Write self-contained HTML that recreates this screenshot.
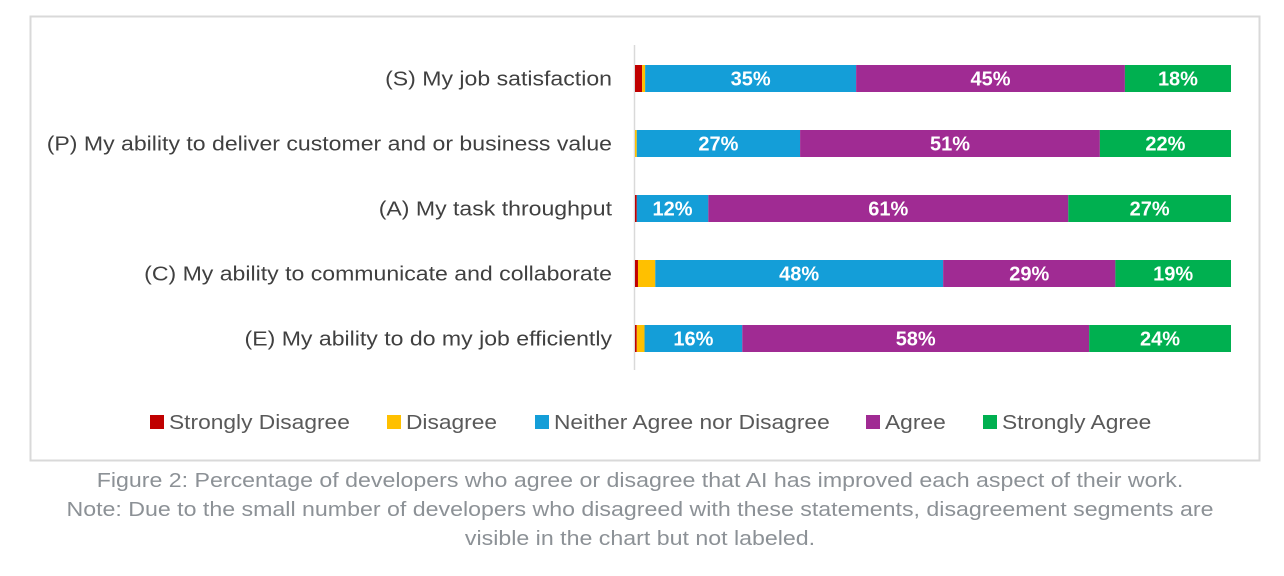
<!DOCTYPE html>
<html><head><meta charset="utf-8"><style>
html,body{margin:0;padding:0;background:#fff;width:1284px;height:576px;overflow:hidden}
svg{display:block;font-family:"Liberation Sans",sans-serif}
</style></head><body>
<svg id="chart" width="1284" height="576">
<rect x="30.5" y="16.5" width="1229" height="444" fill="#fff" stroke="#d9d9d9" stroke-width="2"/>
<line x1="634.5" y1="45" x2="634.5" y2="370" stroke="#d9d9d9" stroke-width="1.5"/>
<g id="bars"></g><g id="legend"></g>
<g fill="#8c9196" font-size="20" text-anchor="middle">
<text class="wide" data-f="1.158" x="640" y="487">Figure 2: Percentage of developers who agree or disagree that AI has improved each aspect of their work.</text>
<text class="wide" data-f="1.158" x="640" y="516">Note: Due to the small number of developers who disagreed with these statements, disagreement segments are</text>
<text class="wide" data-f="1.158" x="640" y="545">visible in the chart but not labeled.</text>
</g>
</svg>
<script>
const categories=["(S) My job satisfaction","(P) My ability to deliver customer and or business value","(A) My task throughput","(C) My ability to communicate and collaborate","(E) My ability to do my job efficiently"];
const seriesNames=["Strongly Disagree","Disagree","Neither Agree nor Disagree","Agree","Strongly Agree"];
const stronglyDisagree=[1.2,0,0.3,0.5,0.3];
const disagree=[0.5,0.3,0,2.9,1.3];
const neither=[35.4,27.4,12.0,48.3,16.4];
const agree=[45.1,50.3,60.4,28.9,58.2];
const stronglyAgree=[17.8,22.0,27.3,19.4,23.8];
const labelNeither=["35%","27%","12%","48%","16%"];
const labelAgree=["45%","51%","61%","29%","58%"];
const labelStrong=["18%","22%","27%","19%","24%"];
const colors=["#c00000","#ffc000","#149ed8","#a02b93","#00b050"];
const NS="http://www.w3.org/2000/svg";
const x0=635,x1=1231,yTop=65,step=65,bh=27;
const xs=v=>v*(x1-x0)/100;
const yOf=i=>yTop+i*step;
const bars=document.getElementById('bars');
const series=[stronglyDisagree,disagree,neither,agree,stronglyAgree];
const labels=[null,null,labelNeither,labelAgree,labelStrong];
categories.forEach((c,i)=>{
  const t=document.createElementNS(NS,'text');
  t.setAttribute('x',612);t.setAttribute('y',yOf(i)+bh/2+7);
  t.setAttribute('text-anchor','end');t.setAttribute('font-size','20.5');t.setAttribute('fill','#404040');
  t.setAttribute('class','wide');t.setAttribute('data-f','1.125');
  t.textContent=c;
  
  
  bars.appendChild(t);
  let tot=series.reduce((a,s)=>a+s[i],0);let acc=0;
  series.forEach((s,k)=>{
    const v=s[i]*100/tot; if(v<=0)return;
    const r=document.createElementNS(NS,'rect');
    r.setAttribute('x',x0+xs(acc));r.setAttribute('y',yOf(i));
    r.setAttribute('width',xs(v));r.setAttribute('height',bh);r.setAttribute('fill',colors[k]);
    
    
    bars.appendChild(r);
    if(labels[k]){
      const l=document.createElementNS(NS,'text');
      l.setAttribute('x',x0+xs(acc+v/2));l.setAttribute('y',yOf(i)+bh/2+7);
      l.setAttribute('text-anchor','middle');l.setAttribute('font-size','20');l.setAttribute('font-weight','bold');l.setAttribute('fill','#fff');
      l.textContent=labels[k][i];
      
      
      bars.appendChild(l);
    }
    acc+=v;
  });
});
const lg=document.getElementById('legend');
const lx=[150,387,535,866,983];
seriesNames.forEach((n,k)=>{
  const r=document.createElementNS(NS,'rect');
  r.setAttribute('x',lx[k]);r.setAttribute('y',415);r.setAttribute('width',14);r.setAttribute('height',14);r.setAttribute('fill',colors[k]);
  
  
  lg.appendChild(r);
  const t=document.createElementNS(NS,'text');
  t.setAttribute('x',lx[k]+19);t.setAttribute('y',429);t.setAttribute('font-size','20.5');t.setAttribute('fill','#595959');
  t.setAttribute('class','wide');t.setAttribute('data-f','1.11');
  t.textContent=n;
  
  
  lg.appendChild(t);
});
document.querySelectorAll('text.wide').forEach(t=>{
  const w=t.getComputedTextLength()*parseFloat(t.getAttribute('data-f'));
  t.setAttribute('textLength',w);t.setAttribute('lengthAdjust','spacingAndGlyphs');
});
</script>
</body></html>
